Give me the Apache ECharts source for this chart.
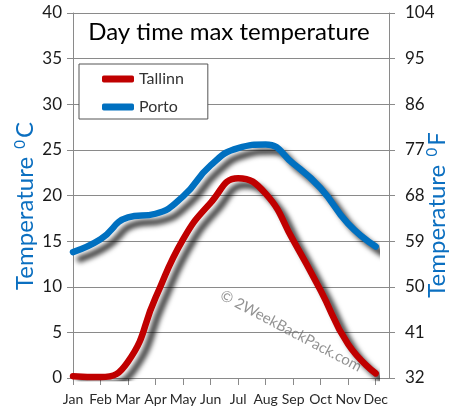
<!DOCTYPE html>
<html><head><meta charset="utf-8">
<script src="https://cdn.jsdelivr.net/npm/echarts@6/dist/echarts.min.js"></script>
<style>html,body{margin:0;padding:0;background:#fff}#c{width:457px;height:419px}</style>
</head><body><div id="c"></div>
<script>
const months = ['Jan','Feb','Mar','Apr','May','Jun','Jul','Aug','Sep','Oct','Nov','Dec'];
const tallinn = [0.2, 0.1, 1.8, 8.8, 15.2, 19.2, 21.9, 20.2, 15.1, 9.6, 3.7, 0.5];
const porto = [13.8, 15.2, 17.6, 18.0, 19.9, 23.3, 25.2, 25.6, 23.5, 20.8, 16.9, 14.4];
const cTicks = [0, 5, 10, 15, 20, 25, 30, 35, 40];
const fTicks = [32, 41, 50, 59, 68, 77, 86, 95, 104];

const FONT = 'Lato';
const GRID = '#8a8a8a';
const chart = echarts.init(document.getElementById('c'), null, {renderer: 'canvas'});
const shadow = {shadowColor: 'rgba(0,0,0,0.75)', shadowBlur: 5, shadowOffsetX: 7, shadowOffsetY: 7};
chart.setOption({
  animation: false,
  textStyle: {fontFamily: FONT},
  grid: [
    {left: 73, right: 81.3, top: 13, bottom: 41},
    {left: 73, right: 68, top: 13, bottom: 41}
  ],
  xAxis: [
    {gridIndex: 0, type: 'category', data: months, boundaryGap: false,
     axisLine: {show: false},
     axisTick: {show: true, length: 7, lineStyle: {color: GRID}},
     axisLabel: {fontFamily: FONT, fontSize: 14, color: '#2a2a2a', margin: 14, interval: 0},
     splitLine: {show: false}},
    {gridIndex: 1, type: 'value', min: 0, max: 1,
     axisLine: {show: true, lineStyle: {color: GRID}},
     axisTick: {show: false}, axisLabel: {show: false}, splitLine: {show: false}}
  ],
  yAxis: [
    {gridIndex: 1, type: 'value', min: cTicks[0], max: cTicks[cTicks.length-1], interval: 5,
     axisLine: {show: true, lineStyle: {color: GRID}},
     axisTick: {show: true, length: 6, lineStyle: {color: GRID}},
     axisLabel: {fontFamily: FONT, fontSize: 17, color: '#1a1a1a', margin: 11},
     splitLine: {show: true, lineStyle: {color: GRID, width: 1}}},
    {gridIndex: 1, type: 'value', position: 'right', min: 0, max: fTicks[fTicks.length-1] - fTicks[0], interval: 9,
     axisLine: {show: true, lineStyle: {color: GRID}},
     axisTick: {show: true, length: 6, lineStyle: {color: GRID}},
     axisLabel: {fontFamily: FONT, fontSize: 17, color: '#1a1a1a', margin: 16,
       formatter: v => String(v + fTicks[0])},
     splitLine: {show: false}},
    {gridIndex: 0, type: 'value', min: 0, max: 40, show: false, splitLine: {show: false}}
  ],
  legend: {
    left: 79, top: 64, orient: 'vertical',
    backgroundColor: '#fff', borderColor: '#555', borderWidth: 1, borderRadius: 0,
    padding: [7, 24, 4, 23], itemGap: 12, itemWidth: 32, itemHeight: 7, itemTextGap: 4,
    icon: 'roundRect',
    textStyle: {fontFamily: FONT, fontSize: 16, color: '#333', lineHeight: 16},
    data: ['Tallinn', 'Porto']
  },
  series: [
    {name: 'Porto', type: 'line', xAxisIndex: 0, yAxisIndex: 2, data: porto, smooth: 0.5,
     showSymbol: false, symbol: 'none', color: '#0070C0',
     lineStyle: Object.assign({width: 6.5, color: '#0070C0', cap: 'round', join: 'round'}, shadow)},
    {name: 'Tallinn', type: 'line', xAxisIndex: 0, yAxisIndex: 2, data: tallinn, smooth: 0.5,
     showSymbol: false, symbol: 'none', color: '#C00000',
     lineStyle: Object.assign({width: 6.5, color: '#C00000', cap: 'round', join: 'round'}, shadow)}
  ],
  graphic: [
    {type: 'text', x: 229, y: 32, z: 100,
     style: {text: 'Day time max temperature', fontFamily: FONT, fontSize: 24, fill: '#000',
       align: 'center', verticalAlign: 'middle'}},
    {type: 'text', x: 25, y: 206, rotation: Math.PI / 2, z: 100,
     style: {text: '{a|Temperature }{s|0}{a|C}', align: 'center', verticalAlign: 'middle',
       rich: {a: {fontFamily: FONT, fontSize: 24, fill: '#0B6FC0', lineHeight: 30, verticalAlign: 'middle'},
              s: {fontFamily: FONT, fontSize: 15, fill: '#0B6FC0', lineHeight: 30, verticalAlign: 'top', padding: [3,2,0,2]}}}},
    {type: 'text', x: 437, y: 215, rotation: Math.PI / 2, z: 100,
     style: {text: '{a|Temperature }{s|0}{a|F}', align: 'center', verticalAlign: 'middle',
       rich: {a: {fontFamily: FONT, fontSize: 24, fill: '#0B6FC0', lineHeight: 30, verticalAlign: 'middle'},
              s: {fontFamily: FONT, fontSize: 15, fill: '#0B6FC0', lineHeight: 30, verticalAlign: 'top', padding: [3,2,0,2]}}}},
    {type: 'text', x: 291, y: 331, rotation: -0.485, z: 1,
     style: {text: '© 2WeekBackPack.com', fontFamily: FONT, fontSize: 15, fill: 'rgba(110,110,110,0.75)',
       align: 'center', verticalAlign: 'middle'}}
  ]
});
</script></body></html>
